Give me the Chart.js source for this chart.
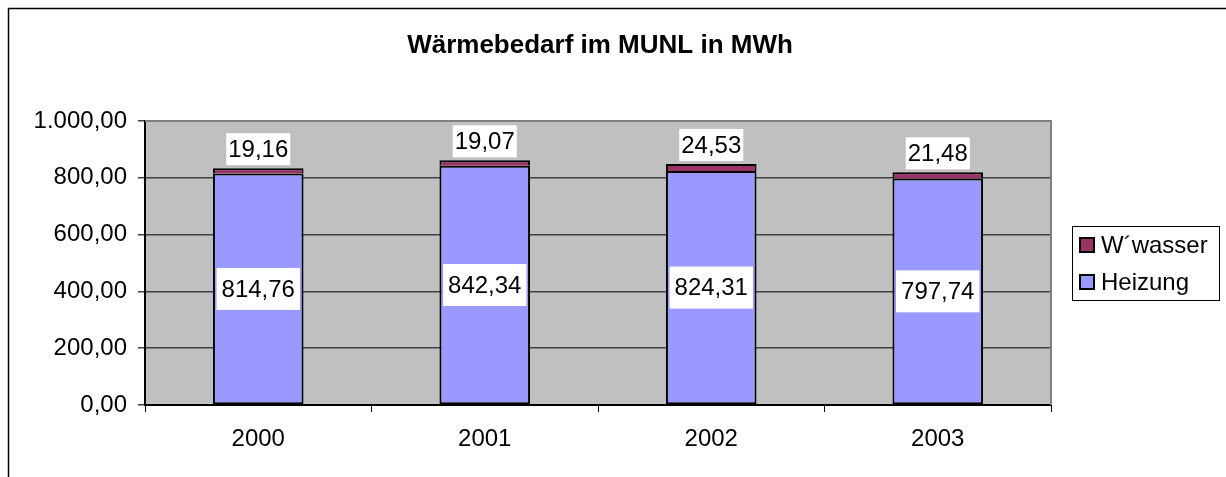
<!DOCTYPE html>
<html>
<head>
<meta charset="utf-8">
<script src="https://cdn.jsdelivr.net/npm/chart.js@4"></script>
<style>
  html, body { margin: 0; padding: 0; background: #fff; }
  #wrap { width: 1226px; height: 477px; }
</style>
</head>
<body>
<div id="wrap"><canvas id="grafico" width="1226" height="477"></canvas></div>
<script>
// daten
const jahre = ['2000', '2001', '2002', '2003'];
const heizung = [814.76, 842.34, 824.31, 797.74];
const wwasser = [19.16, 19.07, 24.53, 21.48];
const yTicks = [0, 200, 400, 600, 800, 1000];

const schrift = '"Liberation Sans", Arial, sans-serif';

// 1.000,00 format
function fmt(v) {
    return v.toFixed(2).replace('.', ',').replace(/\B(?=(\d{3})+(?!\d))/g, '.');
}

const rahmenPlugin = {
    id: 'rahmen',
    beforeDraw(chart) {
        const c = chart.ctx, a = chart.chartArea;
        c.save();
        c.fillStyle = '#fff';
        c.fillRect(0, 0, chart.width, chart.height);
        // aussenrahmen
        c.strokeStyle = '#000';
        c.lineWidth = 1.5;
        c.beginPath();
        c.moveTo(8.5, chart.height);
        c.lineTo(8.5, 8.5);
        c.lineTo(chart.width, 8.5);
        c.stroke();
        // plotflaeche
        c.fillStyle = '#C0C0C0';
        c.fillRect(a.left, a.top, a.right - a.left, a.bottom - a.top);
        // titel
        c.fillStyle = '#000';
        c.font = 'bold 26px ' + schrift;
        c.textAlign = 'center';
        c.textBaseline = 'middle';
        c.fillText('Wärmebedarf im MUNL in MWh', (a.left + a.right) / 2 + 2, 46);
        c.restore();
    },
    afterDraw(chart) {
        const c = chart.ctx, a = chart.chartArea;
        c.save();
        c.strokeStyle = '#808080';
        c.lineWidth = 2;
        c.beginPath();
        c.moveTo(a.left, a.top);
        c.lineTo(a.right, a.top);
        c.lineTo(a.right, a.bottom);
        c.stroke();

        // legende
        c.strokeStyle = '#000';
        c.lineWidth = 1;
        c.fillStyle = '#fff';
        c.fillRect(1072.5, 226.5, 147, 74);
        c.strokeRect(1072.5, 226.5, 147, 74);
        const eintraege = [
            { text: chart.data.datasets[1].label, farbe: chart.data.datasets[1].backgroundColor, y: 245 },
            { text: chart.data.datasets[0].label, farbe: chart.data.datasets[0].backgroundColor, y: 282 }
        ];
        c.font = '24px ' + schrift;
        c.textAlign = 'left';
        c.textBaseline = 'middle';
        eintraege.forEach(e => {
            c.fillStyle = e.farbe;
            c.fillRect(1080, e.y - 7, 14, 14);
            c.lineWidth = 2;
            c.strokeRect(1080, e.y - 7, 14, 14);
            c.fillStyle = '#000';
            c.fillText(e.text, 1101, e.y + 1);
        });
        c.restore();
    },
    afterDatasetsDraw(chart) {
        const c = chart.ctx;
        c.save();
        c.font = '24px ' + schrift;
        c.textAlign = 'center';
        c.textBaseline = 'middle';
        chart.data.datasets.forEach((ds, i) => {
            const meta = chart.getDatasetMeta(i);
            meta.data.forEach((bar, j) => {
                const txt = fmt(ds.data[j]);
                const w = c.measureText(txt).width;
                let cy, h, px;
                if (i === 0) {
                    cy = (bar.y + bar.base) / 2;
                    h = 42; px = 5;
                } else {
                    h = 32; px = 2;
                    cy = bar.y - 3 - h / 2;
                }
                c.fillStyle = '#fff';
                c.fillRect(bar.x - w / 2 - px, cy - h / 2, w + 2 * px, h);
                c.fillStyle = '#000';
                c.fillText(txt, bar.x, cy + 1);
            });
        });
        c.restore();
    }
};

new Chart(document.getElementById('grafico'), {
    type: 'bar',
    data: {
        labels: jahre,
        datasets: [{
            label: 'Heizung',
            data: heizung,
            backgroundColor: '#9999FF',
            borderColor: '#000',
            borderWidth: 2,
            borderSkipped: false,
            barPercentage: 0.4,
            categoryPercentage: 1
        }, {
            label: 'W\u00B4wasser',
            data: wwasser,
            backgroundColor: '#993366',
            borderColor: '#000',
            borderWidth: { top: 2, left: 2, right: 2, bottom: 0 },
            borderSkipped: false,
            barPercentage: 0.4,
            categoryPercentage: 1
        }]
    },
    options: {
        responsive: false,
        animation: false,
        layout: { padding: { top: 121, right: 175, left: 0, bottom: 0 } },
        plugins: {
            legend: { display: false },
            title: { display: false },
            tooltip: { enabled: false }
        },
        scales: {
            x: {
                stacked: true,
                afterFit: s => { s.height = 72; },
                grid: { drawOnChartArea: false, drawTicks: true, tickLength: 7, color: '#000', offset: true },
                border: { color: '#000', width: 2 },
                ticks: { color: '#000', font: { family: schrift, size: 24 }, padding: 13 }
            },
            y: {
                stacked: true,
                min: 0,
                max: 1000,
                afterFit: s => { s.width = 145; },
                afterBuildTicks: s => { s.ticks = yTicks.map(v => ({ value: v })); },
                grid: { color: '#404040', lineWidth: 1.5, tickLength: 7 },
                border: { color: '#000', width: 2 },
                ticks: {
                    color: '#000',
                    font: { family: schrift, size: 24 },
                    padding: 11,
                    callback: v => fmt(v)
                }
            }
        }
    },
    plugins: [rahmenPlugin]
});
</script>
</body>
</html>
